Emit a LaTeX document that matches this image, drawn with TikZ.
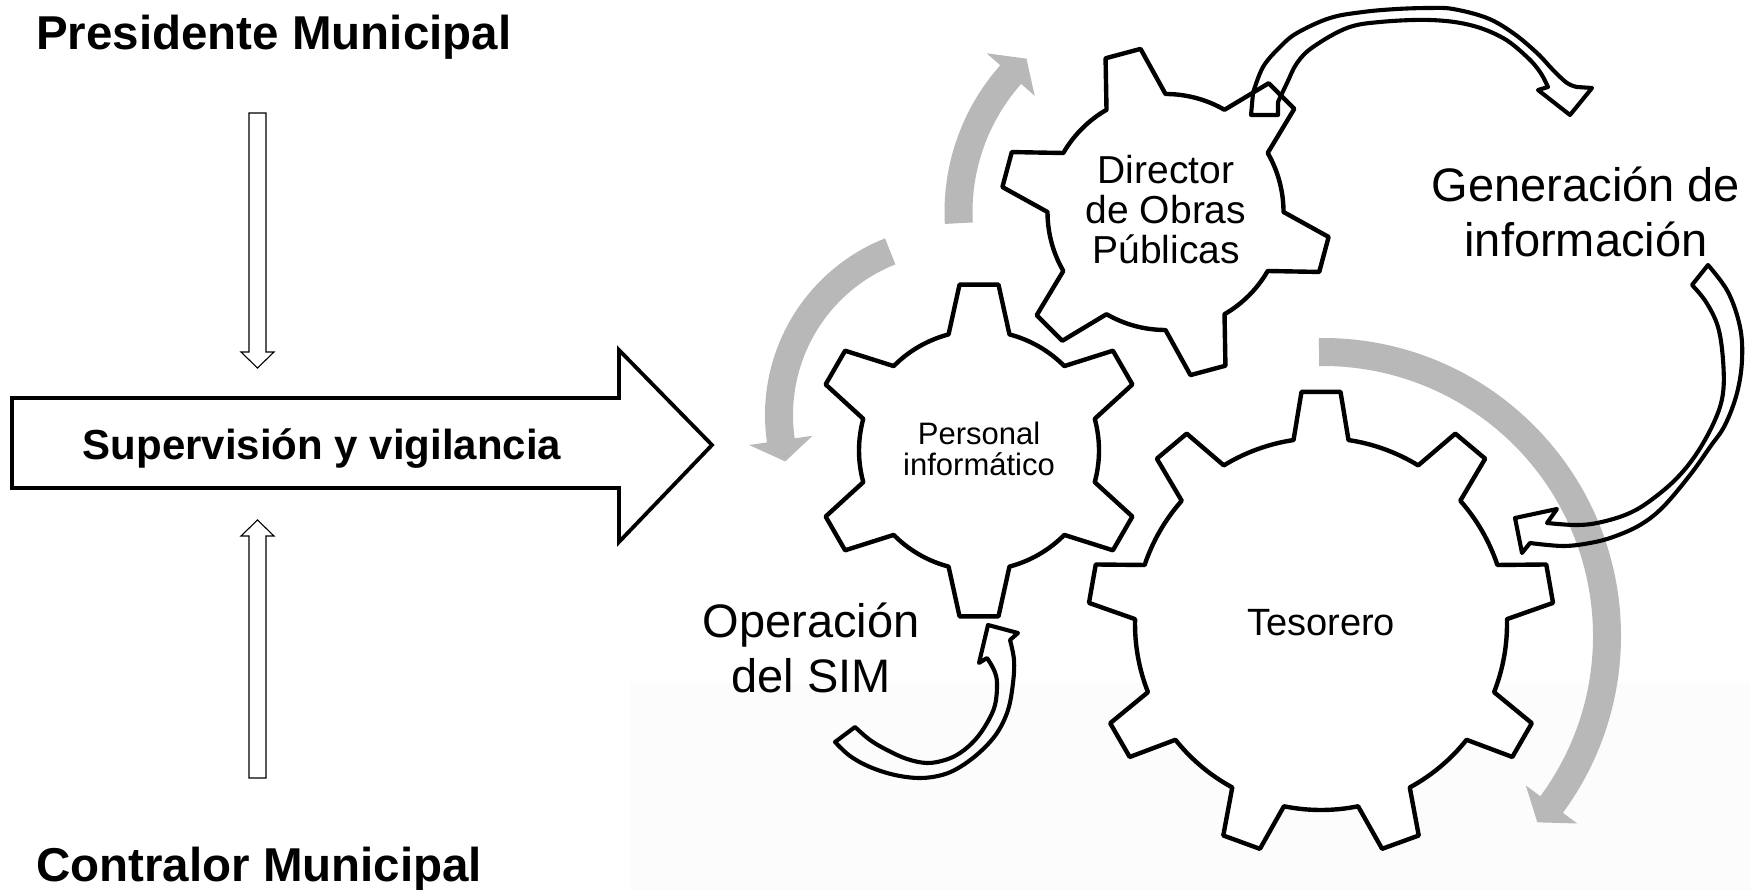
\documentclass[tikz,border=0pt]{standalone}
\usepackage{fontspec}
\setmainfont{Liberation Sans}
\definecolor{arrowgray}{RGB}{184,184,184}
\definecolor{faintgray}{RGB}{252,252,252}
\tikzset{
  gearshape/.style={draw=black, fill=white, line width=4.4, line join=round},
  hollowarrow/.style={draw=black, line width=4.1, line join=round},
  bigarrow/.style={draw=black, fill=white, line width=3.8, line join=miter},
  thinarrow/.style={draw=black, fill=white, line width=1.1},
  titletext/.style={font=\fontsize{47.5}{57}\selectfont\bfseries, inner sep=0pt},
  geartext/.style={align=center, inner sep=0pt},
  labeltext/.style={align=center, inner sep=0pt, font=\fontsize{47}{55}\selectfont},
}
% center, teeth, first tooth angle, outer radius, root radius, base half-angle, tip half-angle
\newcommand\drawgear[7]{%
  \begin{scope}[shift={#1}]
    \pgfmathsetmacro\gs{360/#2}
    \path[gearshape] ({#3-#6}:#5) \foreach \k in {1,...,#2}{
      -- ({#3+(\k-1)*\gs-#7}:#4) -- ({#3+(\k-1)*\gs+#7}:#4) -- ({#3+(\k-1)*\gs+#6}:#5)
      arc[start angle={#3+(\k-1)*\gs+#6}, end angle={#3+\k*\gs-#6}, radius=#5]
    } -- cycle;
  \end{scope}}
% center, mid radius, tail angle, head base angle, tip angle
\newcommand\grayarrow[5]{%
  \begin{scope}[shift={#1}]
    \fill[arrowgray] ({#3}:{#2+14}) arc[start angle={#3}, end angle={#4}, radius={#2+14}]
      -- ({#4}:{#2+32}) -- ({#5}:{#2}) -- ({#4}:{#2-32}) -- ({#4}:{#2-14})
      arc[start angle={#4}, end angle={#3}, radius={#2-14}] -- cycle;
  \end{scope}}
\begin{document}
\begin{tikzpicture}[x=1pt, y=-1pt]
\fill[white] (0,0) rectangle (1750,890);
\useasboundingbox (0,0) rectangle (1750,890);
\fill[faintgray] (630,683) rectangle (1750,890);

% left part
\node[titletext, anchor=base west] (pres) at (36,50) {Presidente Municipal};
\node[titletext, anchor=base west] (contr) at (36,881) {Contralor Municipal};
\path[thinarrow] (249,113) -- (266,113) -- (266,352) -- (274,352) -- (257.5,368) -- (241,352) -- (249,352) -- cycle;
\path[thinarrow] (249,778) -- (266,778) -- (266,536) -- (274,536) -- (257.5,520) -- (241,536) -- (249,536) -- cycle;
\path[bigarrow] (12,398) -- (619,398) -- (619,350) -- (712,445) -- (619,542) -- (619,488) -- (12,488) -- cycle;
\node[font=\fontsize{42}{50}\selectfont\bfseries, inner sep=0pt, anchor=base] (sup) at (322,459) {Supervisión y vigilancia};

% gray circular arrows
\grayarrow{(1165.5,212)}{207}{176.9}{221.6}{227.8}
\grayarrow{(955,415)}{176}{248.4}{171.7}{164.7}
\grayarrow{(1323,636)}{284}{-90.8}{36.4}{41}

% gears
\drawgear{(1321,624)}{9}{-90}{233}{186}{8.5}{4.8}
\drawgear{(979,450.5)}{6}{-90}{167}{120}{14.7}{6.7}
\drawgear{(1165.5,212)}{6}{-105}{165}{118}{15}{6.3}

\node[geartext, font=\fontsize{39}{40}\selectfont] (gDir) at (1166,210) {Director\\de Obras\\Públicas};
\node[geartext, font=\fontsize{31}{31}\selectfont] (gPer) at (979,449) {Personal\\informático};
\node[geartext, font=\fontsize{38}{44}\selectfont, anchor=base] (gTes) at (1321,635) {Tesorero};

% hollow curved arrows
\draw[hollowarrow] (1251,115) -- plot[smooth, tension=0.6] coordinates {(1253,93) (1263,67) (1280,47) (1297,33) (1330,18) (1363,12) (1397,9) (1430,8) (1453,9) (1487,18) (1513,33) (1537,53) (1553,70) (1567,83) (1577,87)}
  -- (1592,88) -- (1570,115) -- (1538,90)
  -- plot[smooth, tension=0.6] coordinates {(1548,87) (1540,72) (1527,57) (1503,38) (1470,25) (1430,20) (1380,22) (1347,28) (1313,47) (1297,63) (1287,83) (1278,102)}
  -- (1278,115) -- cycle;
\draw[hollowarrow] (1692,285) -- plot[smooth, tension=0.6] coordinates {(1708,265) (1728,292) (1740,327) (1742,360) (1737,393) (1725,425) (1710,447) (1690,475) (1663,507) (1640,525) (1613,537) (1590,543) (1563,546) (1530,543)}
  -- (1522,553) -- (1515,518) -- (1557,509)
  -- plot[smooth, tension=0.6] coordinates {(1547,523) (1575,525) (1597,523) (1625,515) (1647,503) (1675,480) (1697,453) (1715,420) (1723,393) (1723,360) (1718,327) (1706,302) (1692,285)}
  -- cycle;
\draw[hollowarrow] (855,727) -- plot[smooth, tension=0.6] coordinates {(835,742) (850,756) (870,767) (895,775) (920,778) (942,775) (960,767) (980,752) (997,733) (1008,710) (1013,683) (1014,660) (1010,640)}
  -- (1018,633) -- (988,625) -- (979,663)
  -- plot[smooth, tension=0.6] coordinates {(987,658) (994,670) (997,683) (995,705) (987,723) (975,740) (960,753) (945,760) (927,763) (907,759) (887,750) (870,740) (855,727)}
  -- cycle;

\node[labeltext] (tGen) at (1586,212) {Generación de\\información};
\node[labeltext] (tOp) at (811,648) {Operación\\del SIM};
\end{tikzpicture}
\end{document}
